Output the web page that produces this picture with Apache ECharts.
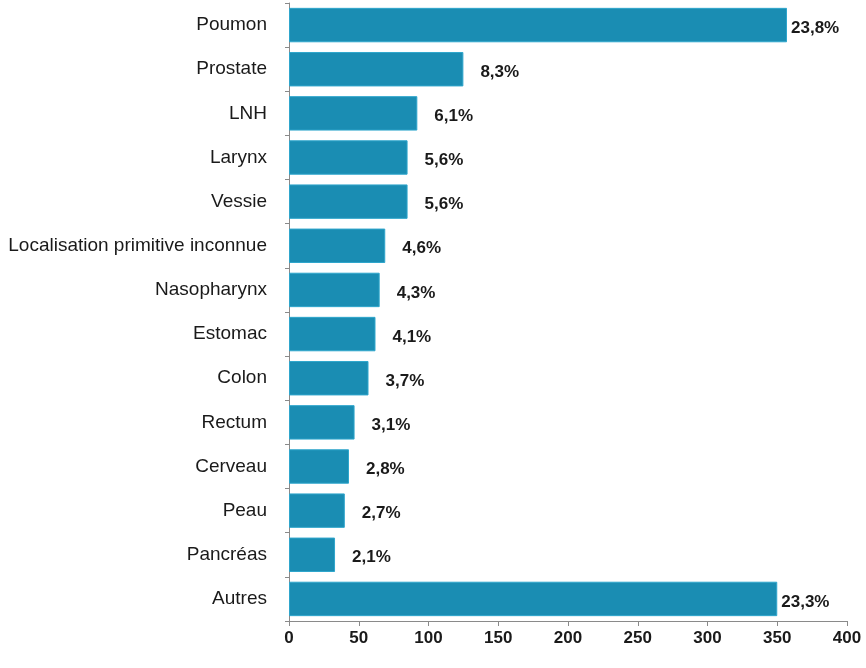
<!DOCTYPE html>
<html>
<head>
<meta charset="utf-8">
<script src="https://cdn.jsdelivr.net/npm/echarts@6/dist/echarts.min.js"></script>
<style>
  html, body { margin: 0; padding: 0; background: #ffffff; }
  #chart { width: 866px; height: 668px; }
</style>
</head>
<body>
<div id="chart"></div>
<script>
// Cancer sites, number of cases and share of the total
const categories = [
  'Poumon', 'Prostate', 'LNH', 'Larynx', 'Vessie',
  'Localisation primitive inconnue', 'Nasopharynx', 'Estomac', 'Colon',
  'Rectum', 'Cerveau', 'Peau', 'Pancréas', 'Autres'
];
const cases = [357, 125, 92, 85, 85, 69, 65, 62, 57, 47, 43, 40, 33, 350];
const shares = ['23,8%', '8,3%', '6,1%', '5,6%', '5,6%', '4,6%', '4,3%', '4,1%', '3,7%', '3,1%', '2,8%', '2,7%', '2,1%', '23,3%'];
const xTicks = [0, 50, 100, 150, 200, 250, 300, 350, 400];

const FONT = '"Liberation Sans", Arial, sans-serif';
const chart = echarts.init(document.getElementById('chart'), null, { renderer: 'canvas' });

chart.setOption({
  animation: false,
  backgroundColor: '#ffffff',
  grid: { left: 289, right: 19, top: 3, bottom: 47, containLabel: false },
  xAxis: {
    type: 'value',
    min: xTicks[0],
    max: xTicks[xTicks.length - 1],
    interval: xTicks[1] - xTicks[0],
    splitLine: { show: false },
    axisLine: { show: true, lineStyle: { color: '#8a8a8a', width: 1 } },
    axisTick: { show: true, length: 5, lineStyle: { color: '#8a8a8a' } },
    axisLabel: {
      color: '#1a1a1a', fontFamily: FONT, fontSize: 17, fontWeight: 'bold', margin: 9
    }
  },
  yAxis: {
    type: 'category',
    data: categories,
    inverse: true,
    axisLine: { show: true, lineStyle: { color: '#8a8a8a', width: 1 } },
    axisTick: { show: true, length: 4, lineStyle: { color: '#8a8a8a' } },
    axisLabel: {
      color: '#1a1a1a', fontFamily: FONT, fontSize: 19, margin: 22,
      padding: [5, 0, 0, 0]
    }
  },
  series: [{
    type: 'bar',
    data: cases.map((v) => ({
      value: v,
      label: { distance: v > 300 ? 4 : 17 }
    })),
    barCategoryGap: '22%',
    itemStyle: { color: '#1a8db3', borderColor: '#2fa6cc', borderWidth: 1 },
    label: {
      show: true,
      position: 'right',
      color: '#1a1a1a',
      fontFamily: FONT,
      fontSize: 17,
      fontWeight: 'bold',
      offset: [0, 3],
      formatter: (p) => shares[p.dataIndex]
    }
  }]
});
</script>
</body>
</html>
